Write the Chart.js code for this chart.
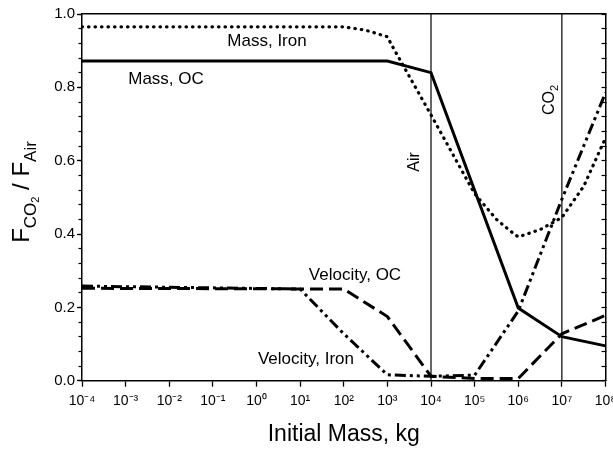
<!DOCTYPE html>
<html><head><meta charset="utf-8">
<script src="https://cdn.jsdelivr.net/npm/chart.js@4"></script>
<style>html,body{margin:0;padding:0;background:#fff;} canvas{display:block;}</style>
</head><body>
<canvas id="c" width="613" height="449"></canvas>
<script>
// ---- data ----
const xTickValues = [1e-4,1e-3,1e-2,1e-1,1e0,1e1,1e2,1e3,1e4,1e5,1e6,1e7,1e8];
const xTickLabels = ['10⁻⁴','10⁻³','10⁻²','10⁻¹','10⁰','10¹','10²','10³','10⁴','10⁵','10⁶','10⁷','10⁸'];
const yTickValues = [0,0.2,0.4,0.6,0.8,1.0];
const yMinorTickValues = [0,0.04,0.08,0.12,0.16,0.2,0.24,0.28,0.32,0.36,0.4,0.44,0.48,0.52,0.56,0.6,0.64,0.68,0.72,0.76,0.8,0.84,0.88,0.92,0.96,1.0];

const massOC_x = [1e-4, 1e3, 1e4, 1e6, 1e7, 1e8];
const massOC_y = [0.872, 0.872, 0.84, 0.198, 0.12, 0.095];

const massIron_x = [1e-4, 1e2, 3.16e2, 1e3, 1.26e3, 1e4, 1e5, 3.16e5, 6.3e5, 1e6, 3.16e6, 1e7, 3.16e7, 1e8];
const massIron_y = [0.965, 0.965, 0.956, 0.938, 0.915, 0.725, 0.51, 0.44, 0.41, 0.392, 0.412, 0.445, 0.53, 0.662];

const velOC_x = [1e-4, 1e2, 1e3, 1e4, 1e5, 1e6, 1e7, 1e8];
const velOC_y = [0.252, 0.25, 0.175, 0.012, 0.006, 0.006, 0.128, 0.178];

const velIron_x = [1e-4, 1e1, 1e2, 1e3, 1e4, 1e5, 1e6, 1e7, 1e8];
const velIron_y = [0.258, 0.25, 0.128, 0.016, 0.012, 0.015, 0.19, 0.495, 0.785];

const refLineX = [1e4, 1e7];
const refLineNames = ['Air', 'CO2'];

const FONT = "'Liberation Sans', Arial, sans-serif";
Chart.defaults.font.family = FONT;
Chart.defaults.color = '#000';

function pts(xs, ys){ return xs.map((x,i)=>({x:x, y:ys[i]})); }

const base = {showLine:true, pointRadius:0, borderColor:'#000', fill:false, tension:0, xAxisID:'x', yAxisID:'y'};

const datasets = [
  Object.assign({}, base, {label:'Mass, OC', data:pts(massOC_x, massOC_y), borderWidth:3}),
  Object.assign({}, base, {label:'Mass, Iron', data:pts(massIron_x, massIron_y), borderWidth:3.2, borderDash:[0.5,6], borderCapStyle:'round'}),
  Object.assign({}, base, {label:'Velocity, OC', data:pts(velOC_x, velOC_y), borderWidth:3, borderDash:[13,6]}),
  Object.assign({}, base, {label:'Velocity, Iron', data:pts(velIron_x, velIron_y), borderWidth:3, borderDash:[11,4,3,4,3,4]}),
];
refLineX.forEach((v,i)=>{
  datasets.push(Object.assign({}, base, {label:refLineNames[i], data:[{x:v,y:0},{x:v,y:1}], borderWidth:1.2}));
});

function drawRich(ctx, parts, cx, cy, rot){
  ctx.save();
  ctx.translate(cx, cy);
  if (rot) ctx.rotate(rot);
  ctx.textBaseline = 'alphabetic';
  ctx.textAlign = 'left';
  let total = 0;
  parts.forEach(p=>{ ctx.font = p.size + 'px ' + FONT; p.w = ctx.measureText(p.t).width; total += p.w; });
  let x = -total/2;
  parts.forEach(p=>{ ctx.font = p.size + 'px ' + FONT; ctx.fillText(p.t, x, p.dy||0); x += p.w; });
  ctx.restore();
}

const labelsPlugin = {
  id:'labelsPlugin',
  afterDraw(chart){
    const ctx = chart.ctx;
    ctx.save();
    ctx.fillStyle = '#000';
    // y axis title
    drawRich(ctx, [
      {t:'F', size:24},
      {t:'CO', size:17, dy:7},
      {t:'2', size:11, dy:10},
      {t:' / ', size:24},
      {t:'F', size:24},
      {t:'Air', size:17, dy:7}
    ], 29, 192, -Math.PI/2);
    // reference line labels
    drawRich(ctx, [{t:'Air', size:16}], 419, 162, -Math.PI/2);
    drawRich(ctx, [{t:'CO', size:16},{t:'2', size:11, dy:4}], 554, 100, -Math.PI/2);
    // series labels
    ctx.font = '17px ' + FONT;
    ctx.textAlign = 'center';
    ctx.textBaseline = 'middle';
    ctx.fillText('Mass, Iron', 267, 41);
    ctx.fillText('Mass, OC', 166, 79);
    ctx.fillText('Velocity, OC', 355, 275);
    ctx.fillText('Velocity, Iron', 306, 359);
    ctx.restore();
  }
};

new Chart(document.getElementById('c'), {
  type:'scatter',
  data:{datasets:datasets},
  options:{
    responsive:false,
    animation:false,
    devicePixelRatio:1,
    layout:{padding:{top:14,left:0,right:0,bottom:0}},
    plugins:{legend:{display:false}, tooltip:{enabled:false}},
    scales:{
      x:{
        type:'logarithmic', position:'bottom', min:1e-4, max:1e8,
        afterBuildTicks:s=>{ s.ticks = xTickValues.map(v=>({value:v})); },
        afterFit:s=>{ s.height = 68.3; s.paddingLeft = 0; s.paddingRight = 0; },
        grid:{drawOnChartArea:false, tickLength:6, color:'#000', tickWidth:1.3},
        border:{color:'#000', width:1.5},
        ticks:{font:{size:14}, color:'#000', padding:6, maxRotation:0, autoSkip:false,
          callback:(v)=>{ const i = xTickValues.findIndex(t=>Math.abs(Math.log10(t)-Math.log10(v))<1e-6); return i>=0 ? xTickLabels[i] : ''; }},
        title:{display:true, text:'Initial Mass, kg', font:{size:23}, color:'#000', padding:{top:0,bottom:1}}
      },
      x2:{
        type:'logarithmic', position:'top', min:1e-4, max:1e8,
        afterFit:s=>{ s.height = 0; s.paddingLeft = 0; s.paddingRight = 0; },
        grid:{drawOnChartArea:false, drawTicks:false},
        border:{color:'#000', width:1.5},
        ticks:{display:false}
      },
      y:{
        type:'linear', position:'left', min:0, max:1, weight:1,
        afterBuildTicks:s=>{ s.ticks = yTickValues.map(v=>({value:v})); },
        afterFit:s=>{ s.width = 82; s.paddingTop = 0; s.paddingBottom = 0; },
        grid:{drawOnChartArea:false, tickLength:5, color:'#000', tickWidth:1.3},
        border:{color:'#000', width:1.5},
        ticks:{font:{size:15}, color:'#000', padding:2, callback:v=>Number(v).toFixed(1)}
      },
      yMinor:{
        type:'linear', position:'left', min:0, max:1, weight:0,
        afterBuildTicks:s=>{ s.ticks = yMinorTickValues.map(v=>({value:v})); },
        afterFit:s=>{ s.width = 0; s.paddingTop = 0; s.paddingBottom = 0; },
        grid:{drawOnChartArea:false, tickLength:3.5, color:'#000', tickWidth:1.2},
        border:{display:false},
        ticks:{display:false}
      },
      yR:{
        type:'linear', position:'right', min:0, max:1,
        afterBuildTicks:s=>{ s.ticks = yMinorTickValues.map(v=>({value:v})); },
        afterFit:s=>{ s.width = 7.5; s.paddingTop = 0; s.paddingBottom = 0; },
        grid:{drawOnChartArea:false, tickLength:-4, color:'#000', tickWidth:1.2},
        border:{color:'#000', width:1.5},
        ticks:{display:false}
      }
    }
  },
  plugins:[labelsPlugin]
});
</script>
</body></html>
